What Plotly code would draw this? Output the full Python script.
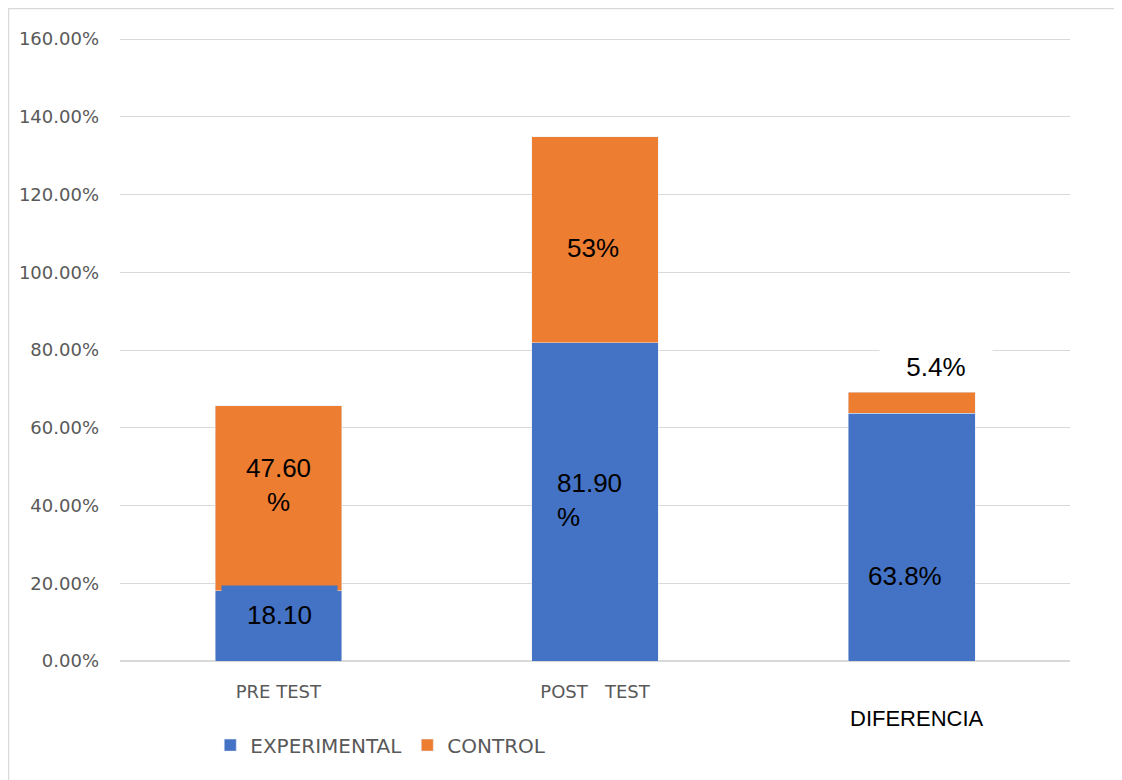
import plotly.graph_objects as go

categories = ["PRE TEST", "POST   TEST", "DIFERENCIA"]
experimental = [18.1, 81.9, 63.8]
control = [47.6, 53.0, 5.4]
exp_labels = ["18.10", "81.90<br>%", "63.8%"]
ctrl_labels = ["47.60<br>%", "53%", "5.4%"]
tick_vals = [0, 20, 40, 60, 80, 100, 120, 140, 160]
tick_text = ["%.2f%%" % v for v in tick_vals]

BLUE = "#4472C4"
ORANGE = "#ED7D31"
AXFONT = "DejaVu Sans"
LABFONT = "Liberation Sans"

fig = go.Figure()
fig.add_trace(go.Bar(name="EXPERIMENTAL", x=[0, 1, 2], y=experimental, marker_color=BLUE,
                     width=0.4, hoverinfo="skip"))
fig.add_trace(go.Bar(name="CONTROL", x=[0, 1, 2], y=control, marker_color=ORANGE,
                     width=0.4, hoverinfo="skip"))

lab_font = dict(family=LABFONT, size=26, color="black")
# experimental labels
fig.add_annotation(x=0, y=11.8, text=exp_labels[0], showarrow=False,
                   font=lab_font, bgcolor=BLUE, borderpad=0, width=115, height=58, xshift=1)
fig.add_annotation(x=1, xshift=-6, y=41.3, text=exp_labels[1], showarrow=False,
                   font=lab_font, align="left")
fig.add_annotation(x=2, xshift=-7, y=21.8, text=exp_labels[2], showarrow=False,
                   font=lab_font)
# control labels
fig.add_annotation(x=0, y=45.2, text=ctrl_labels[0], showarrow=False,
                   font=lab_font, align="center")
fig.add_annotation(x=1, xshift=-2, y=106.2, text=ctrl_labels[1], showarrow=False,
                   font=lab_font)
fig.add_annotation(x=2, xshift=24, y=75.7, text=ctrl_labels[2],
                   showarrow=False, font=lab_font, bgcolor="white", borderpad=6, width=100)
# category label for DIFERENCIA (larger, lower)
fig.add_annotation(x=2, y=0, yshift=-57, xshift=5, text=categories[2], showarrow=False,
                   font=dict(family=LABFONT, size=22, color="black"))

# outer border (left/top)
fig.add_shape(type="rect", xref="paper", yref="paper", x0=-0.1174, x1=1.3, y0=-0.4, y1=1.0474,
              line=dict(color="#D9D9D9", width=1.5), fillcolor="rgba(0,0,0,0)", layer="below")

fig.update_layout(
    barmode="stack",
    width=1114, height=772,
    margin=dict(l=112, r=52, t=30, b=119),
    plot_bgcolor="white", paper_bgcolor="white",
    font=dict(family=AXFONT, size=18, color="#595959"),
    showlegend=True,
    legend=dict(orientation="h", x=0.095, xanchor="left", y=-0.135, yanchor="middle",
                font=dict(family=AXFONT, size=20, color="#595959"), itemwidth=30,
                traceorder="normal"),
    xaxis=dict(tickvals=[0, 1, 2], ticktext=[categories[0], categories[1], ""], range=[-0.5, 2.5],
               showgrid=False, zeroline=False, showline=False, ticks="",
               ticklabelstandoff=18,
               tickfont=dict(family=AXFONT, size=18, color="#595959")),
    yaxis=dict(range=[0, 160.3], tickvals=tick_vals, ticktext=tick_text, showgrid=True,
               gridcolor="#D9D9D9", gridwidth=1, zeroline=True, zerolinecolor="#D9D9D9",
               showline=False, ticks="", ticklen=0, ticklabelstandoff=20,
               tickfont=dict(family=AXFONT, size=18, color="#595959")),
)

fig.write_html("out.html")
